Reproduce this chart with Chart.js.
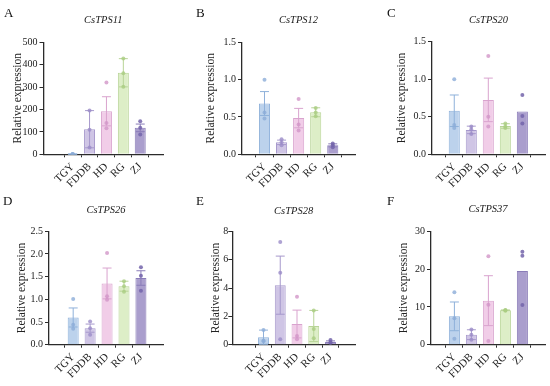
<!DOCTYPE html>
<html><head><meta charset="utf-8">
<script src="https://cdn.jsdelivr.net/npm/chart.js@4.4.1/dist/chart.umd.min.js"></script>
<style>
html,body{margin:0;padding:0;background:#fff;}
#wrap{position:relative;width:550px;height:386px;overflow:hidden;background:#fff}
.panel{position:absolute}
.letter{position:absolute;font-family:'Liberation Serif','Times New Roman',serif;font-size:13px;color:#111;line-height:1}
</style></head><body>
<div id="wrap"></div>
<script>
// ---------------- data ----------------
const categories = ['TGY', 'FDDB', 'HD', 'RG', 'ZJ'];
const panelLetters = ['A', 'B', 'C', 'D', 'E', 'F'];
const geneNames = ['CsTPS11', 'CsTPS12', 'CsTPS20', 'CsTPS26', 'CsTPS28', 'CsTPS37'];

const tps11Mean = [1, 112, 192, 364, 118];
const tps11Err  = [0.5, 83, 65, 63, 17];
const tps11Reps = [[1.5, 0.8, 0.7], [196, 30, 110], [320, 140, 116], [428, 362, 302], [148, 118, 88]];
const tps11Ticks = [0, 100, 200, 300, 400, 500];
const tps11TickLabels = ['0', '100', '200', '300', '400', '500'];

const tps12Mean = [0.68, 0.16, 0.485, 0.563, 0.12];
const tps12Err  = [0.16, 0.03, 0.13, 0.06, 0.02];
const tps12Reps = [[1.0, 0.56, 0.48], [0.20, 0.16, 0.12], [0.74, 0.40, 0.32], [0.62, 0.56, 0.51], [0.145, 0.12, 0.095]];
const tps12Ticks = [0, 0.5, 1, 1.5];
const tps12TickLabels = ['0.0', '0.5', '1.0', '1.5'];

const tps20Mean = [0.58, 0.325, 0.725, 0.377, 0.57];
const tps20Err  = [0.21, 0.05, 0.29, 0.03, null];
const tps20Reps = [[1.0, 0.39, 0.35], [0.37, 0.33, 0.27], [1.31, 0.50, 0.37], [0.41, 0.37, 0.35], [0.79, 0.51, 0.41]];
const tps20Ticks = [0, 0.5, 1, 1.5];
const tps20TickLabels = ['0.0', '0.5', '1.0', '1.5'];

const tps26Mean = [0.60, 0.365, 1.35, 1.29, 1.47];
const tps26Err  = [0.21, 0.09, 0.34, 0.11, 0.16];
const tps26Reps = [[1.01, 0.44, 0.35], [0.51, 0.36, 0.22], [2.02, 1.07, 0.99], [1.40, 1.29, 1.17], [1.71, 1.52, 1.19]];
const tps26Ticks = [0, 0.5, 1, 1.5, 2, 2.5];
const tps26TickLabels = ['0.0', '0.5', '1.0', '1.5', '2.0', '2.5'];

const tps28Mean = [0.53, 4.2, 1.46, 1.32, 0.21];
const tps28Err  = [0.5, 2.05, 0.98, 1.1, 0.06];
const tps28Reps = [[1.03, 0.3, 0.25], [7.25, 5.07, 0.38], [3.38, 0.61, 0.38], [2.42, 1.1, 0.45], [0.33, 0.18, 0.12]];
const tps28Ticks = [0, 2, 4, 6, 8];
const tps28TickLabels = ['0', '2', '4', '6', '8'];

const tps37Mean = [7.5, 2.65, 11.65, 9.1, 19.5];
const tps37Err  = [3.8, 1.3, 6.6, 0.1, null];
const tps37Reps = [[13.9, 7.0, 1.6], [4.0, 2.65, 1.3], [23.4, 10.6, 1.0], [9.2, 9.1, 9.0], [24.6, 23.5, 10.5]];
const tps37Ticks = [0, 10, 20, 30];
const tps37TickLabels = ['0', '10', '20', '30'];

// ---------------- styles ----------------
const fillColors   = ['#bcd2ec', '#cfc5e5', '#f1cde8', '#ddeec7', '#aa9ecd'];
const borderColors = ['#8fb1da', '#a698cc', '#d9a3ce', '#b8d497', '#8a7cb8'];
const pointColors  = ['rgba(140,172,216,0.8)', 'rgba(155,140,200,0.8)', 'rgba(210,150,200,0.8)', 'rgba(170,205,130,0.8)', 'rgba(115,100,170,0.85)'];
const FONT = "'Liberation Serif','Times New Roman',serif";
const AXIS = '#2b2b2b';

const panels = [
  {mean: tps11Mean, err: tps11Err, reps: tps11Reps, ticks: tps11Ticks, labels: tps11TickLabels},
  {mean: tps12Mean, err: tps12Err, reps: tps12Reps, ticks: tps12Ticks, labels: tps12TickLabels},
  {mean: tps20Mean, err: tps20Err, reps: tps20Reps, ticks: tps20Ticks, labels: tps20TickLabels},
  {mean: tps26Mean, err: tps26Err, reps: tps26Reps, ticks: tps26Ticks, labels: tps26TickLabels},
  {mean: tps28Mean, err: tps28Err, reps: tps28Reps, ticks: tps28Ticks, labels: tps28TickLabels},
  {mean: tps37Mean, err: tps37Err, reps: tps37Reps, ticks: tps37Ticks, labels: tps37TickLabels}
];

// layout (pixels) for each panel box
const layoutBoxes = [
  {bx: 0,   by: 0,   w: 183, h: 193, L: 11.1, Wy: 32.4, R: 20, T: 14.4, tpb: 15.3, B: 3.7, xmin: -1.018, xmax: 4.64,  lx: 4,   ly: 6,   tp: 2},
  {bx: 183, by: 0,   w: 183, h: 193, L: 21.4, Wy: 37.6, R: 11, T: 14.4, tpb: 15.3, B: 3.7, xmin: -0.656, xmax: 4.64,  lx: 196, ly: 6,   tp: 2},
  {bx: 366, by: 0,   w: 184, h: 193, L: 28.8, Wy: 37.2, R: 5,  T: 13.7, tpb: 15.4, B: 3.7, xmin: -0.644, xmax: 4.667, lx: 387, ly: 6,   tp: 2},
  {bx: 0,   by: 193, w: 183, h: 193, L: 15.4, Wy: 33.6, R: 20, T: 11,   tpb: 14.7, B: 6.3, xmin: -0.755, xmax: 4.63,  lx: 3,   ly: 194, tp: 2},
  {bx: 183, by: 193, w: 183, h: 193, L: 26,   Wy: 23.3, R: 11, T: 12,   tpb: 13.7, B: 6.3, xmin: -1.13,  xmax: 4.73,  lx: 196, ly: 194, tp: 0},
  {bx: 366, by: 193, w: 184, h: 193, L: 31.1, Wy: 33.9, R: 5,  T: 10.4, tpb: 15.3, B: 6.3, xmin: -0.706, xmax: 4.66,  lx: 387, ly: 194, tp: 2}
];

const errorBarPlugin = {
  id: 'errbars',
  afterDatasetDraw(chart, args, opts) {
    if (args.meta.type !== 'bar') return;
    const {ctx} = chart;
    const x = chart.scales.x, y = chart.scales.y;
    ctx.save();
    opts.means.forEach((m, i) => {
      const e = opts.errors[i];
      if (e === null || e === undefined) return;
      const px = x.getPixelForValue(i);
      const top = y.getPixelForValue(m + e);
      const bot = y.getPixelForValue(Math.max(m - e, 0));
      ctx.strokeStyle = opts.colors[i];
      ctx.lineWidth = 1;
      ctx.beginPath();
      ctx.moveTo(px, top); ctx.lineTo(px, bot);
      ctx.moveTo(px - 4.5, top); ctx.lineTo(px + 4.5, top);
      if (m - e > 0) { ctx.moveTo(px - 4.5, bot); ctx.lineTo(px + 4.5, bot); }
      ctx.stroke();
    });
    ctx.restore();
  }
};

const wrap = document.getElementById('wrap');
panels.forEach((p, k) => {
  const lb = layoutBoxes[k];
  const div = document.createElement('div');
  div.className = 'panel';
  div.style.left = lb.bx + 'px'; div.style.top = lb.by + 'px';
  div.style.width = lb.w + 'px'; div.style.height = lb.h + 'px';
  const cv = document.createElement('canvas');
  cv.width = lb.w; cv.height = lb.h;
  cv.style.width = lb.w + 'px'; cv.style.height = lb.h + 'px';
  div.appendChild(cv);
  wrap.appendChild(div);

  const letter = document.createElement('div');
  letter.className = 'letter';
  letter.textContent = panelLetters[k];
  letter.style.left = lb.lx + 'px'; letter.style.top = lb.ly + 'px';
  wrap.appendChild(letter);

  const barData = categories.map((c, i) => ({x: i, y: p.mean[i]}));
  const pointData = [];
  p.reps.forEach((arr, i) => arr.forEach(v => pointData.push({x: i, y: v})));

  new Chart(cv, {
    type: 'bar',
    data: {
      datasets: [
        {
          type: 'bar', data: barData, order: 2,
          backgroundColor: fillColors, borderColor: borderColors, borderWidth: 1,
          barPercentage: 0.65, categoryPercentage: 1
        },
        {
          type: 'scatter', data: pointData, order: 1,
          pointRadius: 2, pointBorderWidth: 0,
          pointBackgroundColor: ctx => pointColors[ctx.raw ? ctx.raw.x : 0],
          pointBorderColor: 'rgba(0,0,0,0)'
        }
      ]
    },
    options: {
      responsive: false, animation: false, devicePixelRatio: 1,
      layout: {padding: {left: lb.L, right: lb.R, top: lb.T, bottom: lb.B}},
      plugins: {
        legend: {display: false}, tooltip: {enabled: false},
        title: {
          display: true, text: geneNames[k], fullSize: false,
          font: {family: FONT, size: 10.5, style: 'italic', weight: 'normal', lineHeight: 1.2},
          color: '#222', padding: {top: 0, bottom: lb.tpb}
        },
        errbars: {means: p.mean, errors: p.err, colors: borderColors}
      },
      scales: {
        x: {
          type: 'linear', min: lb.xmin, max: lb.xmax,
          afterBuildTicks: s => { s.ticks = categories.map((c, i) => ({value: i})); },
          afterFit: s => { s.height = 35; },
          ticks: {
            callback: v => categories[v], autoSkip: false, maxRotation: 45, minRotation: 45,
            font: {family: FONT, size: 11}, color: '#222', padding: 3
          },
          grid: {display: true, drawOnChartArea: false, drawTicks: true, tickLength: 3, color: AXIS, lineWidth: 1},
          border: {display: true, color: AXIS, width: 1.3}
        },
        y: {
          type: 'linear', min: p.ticks[0], max: p.ticks[p.ticks.length - 1],
          afterBuildTicks: s => { s.ticks = p.ticks.map(v => ({value: v})); },
          afterFit: s => { s.width = lb.Wy; },
          ticks: {
            callback: (v, i) => p.labels[i],
            font: {family: FONT, size: 10}, color: '#222', padding: lb.tp
          },
          grid: {display: true, drawOnChartArea: false, drawTicks: true, tickLength: 4, color: AXIS, lineWidth: 1},
          border: {display: true, color: AXIS, width: 1.3},
          title: {
            display: true, text: 'Relative expression',
            font: {family: FONT, size: 11.5, lineHeight: 1.2}, color: '#222', padding: 0
          }
        }
      }
    },
    plugins: [errorBarPlugin]
  });
});
</script>
</body></html>
